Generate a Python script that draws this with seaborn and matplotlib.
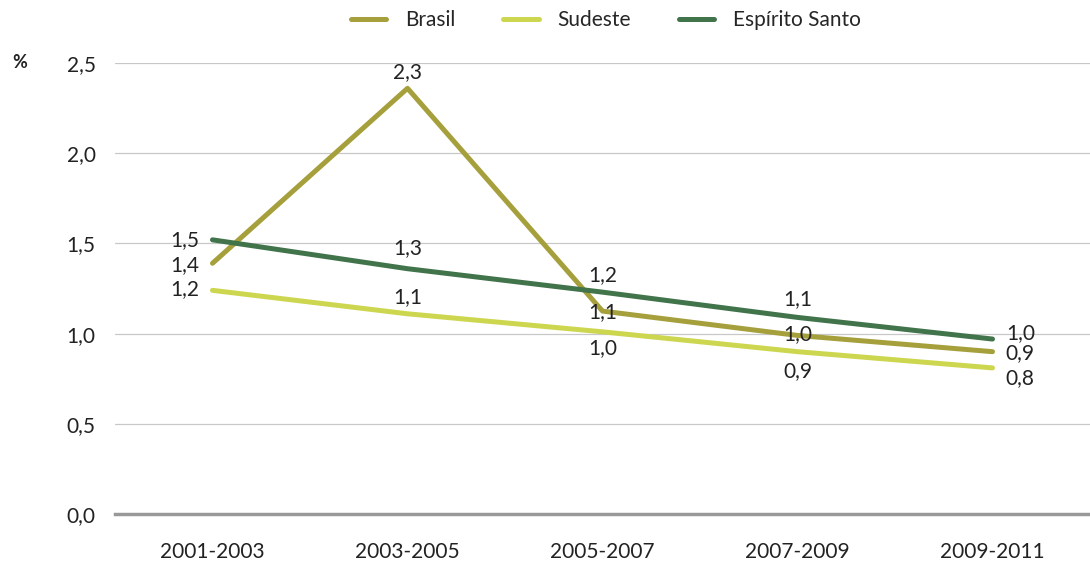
import matplotlib
matplotlib.use("Agg")
import matplotlib.pyplot as plt
import pandas as pd
import seaborn as sns

# Data
periods = ["2001-2003", "2003-2005", "2005-2007", "2007-2009", "2009-2011"]
brasil = [1.39, 2.36, 1.125, 0.99, 0.90]
sudeste = [1.24, 1.11, 1.01, 0.90, 0.81]
espirito_santo = [1.52, 1.36, 1.23, 1.09, 0.97]
brasil_labels = ["1,4", "2,3", "1,1", "1,0", "0,9"]
sudeste_labels = ["1,2", "1,1", "1,0", "0,9", "0,8"]
es_labels = ["1,5", "1,3", "1,2", "1,1", "1,0"]
y_ticks = [0.0, 0.5, 1.0, 1.5, 2.0, 2.5]

series = ["Brasil", "Sudeste", "Espírito Santo"]
colors = {"Brasil": "#a6a03c", "Sudeste": "#cdd64f", "Espírito Santo": "#41744a"}

df = pd.DataFrame({
    "period": periods * 3,
    "x": list(range(len(periods))) * 3,
    "value": brasil + sudeste + espirito_santo,
    "serie": ["Brasil"] * 5 + ["Sudeste"] * 5 + ["Espírito Santo"] * 5,
})

sns.set_style("white")
plt.rcParams["font.family"] = ["Lato", "DejaVu Sans"]
FS = 15
TXT = "#222222"

fig = plt.figure(figsize=(10.9, 5.63), dpi=100)
ax = fig.add_axes([0.1055, 0.087, 0.8945, 0.801])

sns.lineplot(data=df, x="x", y="value", hue="serie", hue_order=series,
             palette=colors, linewidth=3.6, ax=ax, legend=False,
             solid_capstyle="round")

ax.set_xlim(-0.5, 4.5)
ax.set_ylim(0, 2.5)
ax.set_yticks(y_ticks)
ax.set_yticklabels([f"{v:.1f}".replace(".", ",") for v in y_ticks], fontsize=FS, color=TXT)
ax.set_xticks(range(len(periods)))
ax.set_xticklabels(periods, fontsize=FS, color=TXT)
ax.tick_params(axis="x", length=0, pad=20)
ax.tick_params(axis="y", length=0, pad=14)
ax.grid(axis="y", color="#c8c8c8", linewidth=0.9)
ax.set_axisbelow(True)
for s in ["top", "right", "left"]:
    ax.spines[s].set_visible(False)
ax.spines["bottom"].set_color("#999999")
ax.spines["bottom"].set_linewidth(2.5)
ax.set_xlabel("")
ax.set_ylabel("")

# data labels (offsets in points)
label_sets = [
    (brasil, brasil_labels, [(-20, -1), (0, 12), (0, -1), (0, 1), (20, -1)]),
    (sudeste, sudeste_labels, [(-20, 1), (0, 12), (0, -12), (0, -14), (20, -7)]),
    (espirito_santo, es_labels, [(-20, 0), (0, 15), (0, 12), (0, 13), (20, 4)]),
]
for vals, labs, offs in label_sets:
    for i, (v, lab, off) in enumerate(zip(vals, labs, offs)):
        ax.annotate(lab, (i, v), xytext=off, textcoords="offset points",
                    ha="center", va="center", fontsize=FS, color=TXT)

fig.text(20 / 1090, 1 - 62 / 563, "%", fontsize=13, fontweight="bold",
         ha="center", va="center", color=TXT)

handles = [plt.Line2D([], [], color=colors[s], linewidth=3.6) for s in series]
fig.legend(handles, series, loc="center", bbox_to_anchor=(0.556, 1 - 20 / 563),
           ncol=3, frameon=False, fontsize=FS, handlelength=1.7,
           columnspacing=2.3, handletextpad=0.9)

fig.savefig("out.png", dpi=100)
